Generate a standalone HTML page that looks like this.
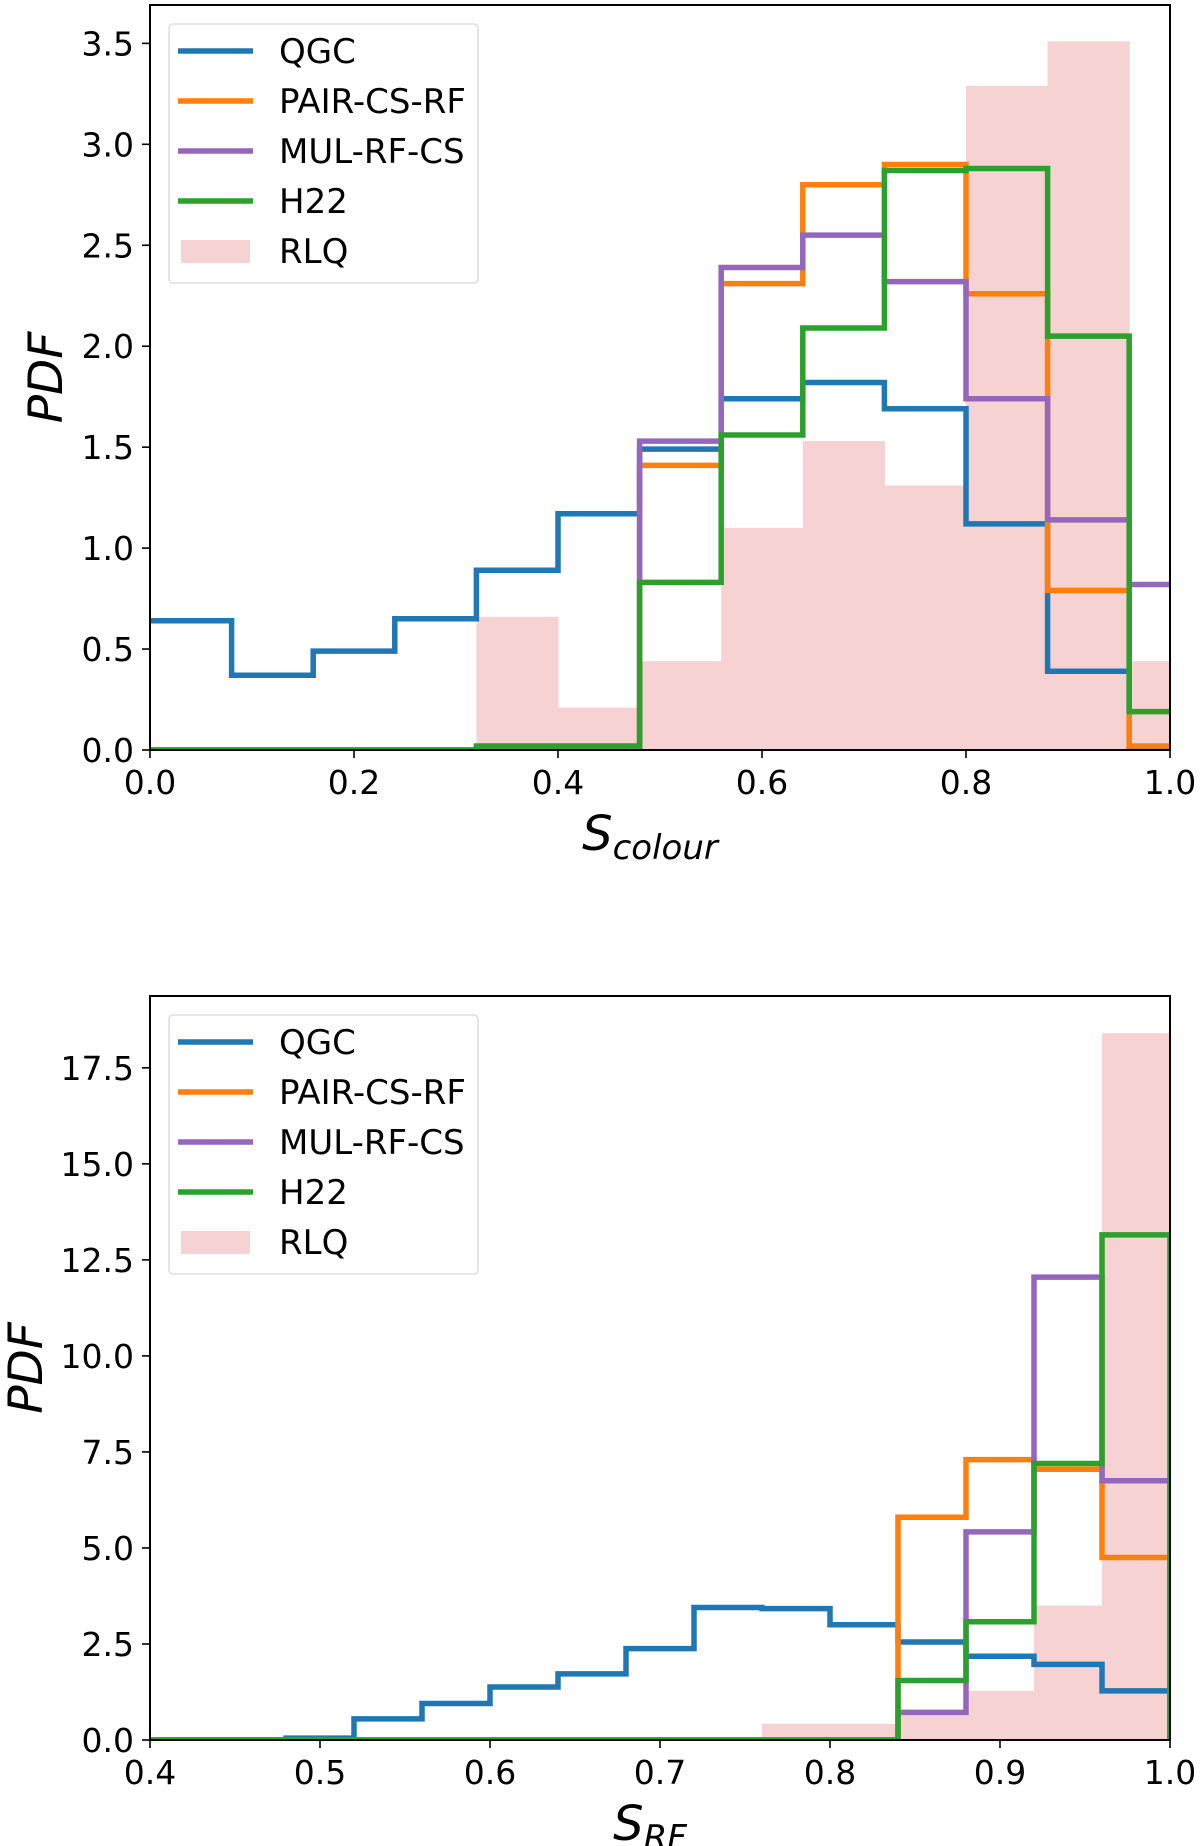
<!DOCTYPE html>
<html><head><meta charset="utf-8">
<style>
html,body{margin:0;padding:0;background:#fff;}
svg{display:block;font-family:"DejaVu Sans","Liberation Sans",sans-serif;}
</style></head>
<body>
<svg id="fig" width="1200" height="1846" viewBox="0 0 1200 1846" xmlns="http://www.w3.org/2000/svg"></svg>
<script>
// ---- Top chart data (S_colour) ----
const topBinStart = 0, topBinWidth = 0.08;
const topQGC  = [0.64,0.37,0.49,0.65,0.89,1.17,1.49,1.74,1.82,1.69,1.12,0.39,0];
const topPAIR = [0,0,0,0,0.01,0,1.41,2.31,2.80,2.90,2.26,0.79,0.02];
const topMUL  = [0,0,0,0,0,0,1.53,2.39,2.55,2.32,1.74,1.14,0.82];
const topH22  = [0,0,0,0,0.02,0.02,0.83,1.56,2.09,2.87,2.88,2.05,0.19];
const topRLQ  = [0,0,0,0,0.66,0.21,0.44,1.10,1.53,1.31,3.29,3.51,0.44];
const topXTicks = [0,0.2,0.4,0.6,0.8,1.0];
const topXTickLabels = ["0.0","0.2","0.4","0.6","0.8","1.0"];
const topYTicks = [0,0.5,1.0,1.5,2.0,2.5,3.0,3.5];
const topYTickLabels = ["0.0","0.5","1.0","1.5","2.0","2.5","3.0","3.5"];

// ---- Bottom chart data (S_RF) ----
const botBinStart = 0.4, botBinWidth = 0.04;
const botQGC  = [0,0,0.05,0.55,0.95,1.38,1.72,2.38,3.45,3.42,3.0,2.55,2.18,1.97,1.28];
const botPAIR = [0,0,0,0,0,0,0,0,0,0,0,5.8,7.3,7.05,4.75];
const botMUL  = [0,0,0,0,0,0,0,0,0,0,0,0.72,5.42,12.05,6.75];
const botH22  = [0,0,0,0,0,0,0,0,0,0,0,1.55,3.08,7.2,13.15];
const botRLQ  = [0,0,0,0,0,0,0,0,0,0.42,0.42,0.72,1.28,3.5,18.4];
const botXTicks = [0.4,0.5,0.6,0.7,0.8,0.9,1.0];
const botXTickLabels = ["0.4","0.5","0.6","0.7","0.8","0.9","1.0"];
const botYTicks = [0,2.5,5,7.5,10,12.5,15,17.5];
const botYTickLabels = ["0.0","2.5","5.0","7.5","10.0","12.5","15.0","17.5"];

const NS = "http://www.w3.org/2000/svg";
const svg = document.getElementById('fig');
function mk(tag, attrs, parent){
  const e = document.createElementNS(NS, tag);
  for (const k in attrs) e.setAttribute(k, attrs[k]);
  (parent||svg).appendChild(e);
  return e;
}
const colors = {QGC:"#1f77b4", PAIR:"#ff7f0e", MUL:"#9467bd", H22:"#2ca02c", RLQ:"#f6d2d2"};

function drawChart(c){
  const g = mk('g', {});
  
  
  const X = v => c.left + (v - c.xmin) / (c.xmax - c.xmin) * (c.right - c.left);
  const Y = v => c.bottom - (v - c.ymin) / (c.ymax - c.ymin) * (c.bottom - c.top);
  const clip = mk('clipPath', {id: c.name + '-clip'}, g);
  mk('rect', {x:c.left + 1, y:c.top, width:c.right-c.left - 1, height:c.bottom-c.top}, clip);
  const plot = mk('g', {'clip-path': 'url(#' + c.name + '-clip)'}, g);
  c.rlq.forEach((v, i) => {
    if (v <= 0) return;
    const x0 = X(c.binStart + i * c.binWidth), x1 = X(c.binStart + (i + 1) * c.binWidth);
    const r = mk('rect', {x:x0, y:Y(v), width:x1 - x0 + 0.5, height:Y(0) - Y(v), fill:colors.RLQ}, plot);
    
    
  });
  c.series.forEach(s => {
    let d = 'M' + (X(c.binStart) - 4) + ' ' + Y(s.vals[0]);
    s.vals.forEach((v, i) => {
      const x0 = X(c.binStart + i * c.binWidth), x1 = X(c.binStart + (i + 1) * c.binWidth);
      d += ' L' + x0 + ' ' + Y(v) + ' L' + x1 + ' ' + Y(v);
    });
    d += ' L' + X(c.binStart + s.vals.length * c.binWidth) + ' ' + Y(0);
    const p = mk('path', {d:d, fill:'none', stroke:colors[s.key], 'stroke-width':5.5, 'stroke-linejoin':'miter'}, plot);
    
    
  });
  const fr = mk('rect', {x:c.left, y:c.top, width:c.right-c.left, height:c.bottom-c.top, fill:'none', stroke:'#000', 'stroke-width':2}, g);
  
  
  c.xticks.forEach((v, i) => {
    const x = X(v);
    mk('line', {x1:x, x2:x, y1:c.bottom, y2:c.bottom + 8, stroke:'#000', 'stroke-width':1.6}, g);
    const t = mk('text', {x:x, y:c.bottom + 44, 'text-anchor':'middle', 'font-size':33, fill:'#000'}, g);
    t.textContent = c.xlabels[i];
    
    
  });
  c.yticks.forEach((v, i) => {
    const y = Y(v);
    mk('line', {x1:c.left - 8, x2:c.left, y1:y, y2:y, stroke:'#000', 'stroke-width':1.6}, g);
    const t = mk('text', {x:c.left - 16, y:y + 12, 'text-anchor':'end', 'font-size':33, fill:'#000'}, g);
    t.textContent = c.ylabels[i];
    
    
  });
  const cy = (c.top + c.bottom) / 2;
  const yl = mk('text', {x:0, y:0, transform:'translate(' + c.ylabelX + ',' + cy + ') rotate(-90)', 'text-anchor':'middle', 'font-size':47, 'font-style':'italic', fill:'#000'}, g);
  yl.textContent = 'PDF';
  
  
  const xl = mk('text', {x:(c.left + c.right) / 2 - 10, y:c.bottom + 100, 'text-anchor':'middle', 'font-size':48, 'font-style':'italic', fill:'#000'}, g);
  
  
  xl.appendChild(document.createTextNode('S'));
  const sub = mk('tspan', {'font-size':34, dy:9}, xl);
  sub.textContent = c.xsub;
  const lg = mk('g', {}, g);
  
  
  const L = c.left, T = c.top;
  mk('rect', {x:L + 19, y:T + 19, width:309, height:259, rx:4, fill:'#fff', 'fill-opacity':0.8, stroke:'#ddd', 'stroke-width':1.5}, lg);
  const entries = [['QGC','QGC'],['PAIR','PAIR-CS-RF'],['MUL','MUL-RF-CS'],['H22','H22'],['RLQ','RLQ']];
  entries.forEach((e, i) => {
    const y = T + 46 + i * 50;
    const eg = mk('g', {}, lg);
    
    
    if (e[0] === 'RLQ') mk('rect', {x:L + 31, y:y - 11, width:69, height:23, fill:colors.RLQ}, eg);
    else mk('line', {x1:L + 28, x2:L + 103, y1:y, y2:y, stroke:colors[e[0]], 'stroke-width':5.5}, eg);
    const t = mk('text', {x:L + 129, y:y + 12, 'font-size':34, fill:'#000'}, eg);
    t.textContent = e[1];
  });
}

drawChart({name:'colour-chart', left:150, right:1170, top:5, bottom:750, xmin:0, xmax:1, ymin:0, ymax:3.69, ylabelX:62,
  binStart:topBinStart, binWidth:topBinWidth, rlq:topRLQ,
  series:[{key:'QGC',vals:topQGC},{key:'PAIR',vals:topPAIR},{key:'MUL',vals:topMUL},{key:'H22',vals:topH22}],
  xticks:topXTicks, xlabels:topXTickLabels, yticks:topYTicks, ylabels:topYTickLabels, xsub:'colour'});
drawChart({name:'rf-chart', left:150, right:1170, top:996, bottom:1740, xmin:0.4, xmax:1, ymin:0, ymax:19.37, ylabelX:42,
  binStart:botBinStart, binWidth:botBinWidth, rlq:botRLQ,
  series:[{key:'QGC',vals:botQGC},{key:'PAIR',vals:botPAIR},{key:'MUL',vals:botMUL},{key:'H22',vals:botH22}],
  xticks:botXTicks, xlabels:botXTickLabels, yticks:botYTicks, ylabels:botYTickLabels, xsub:'RF'});
</script>
</body></html>
